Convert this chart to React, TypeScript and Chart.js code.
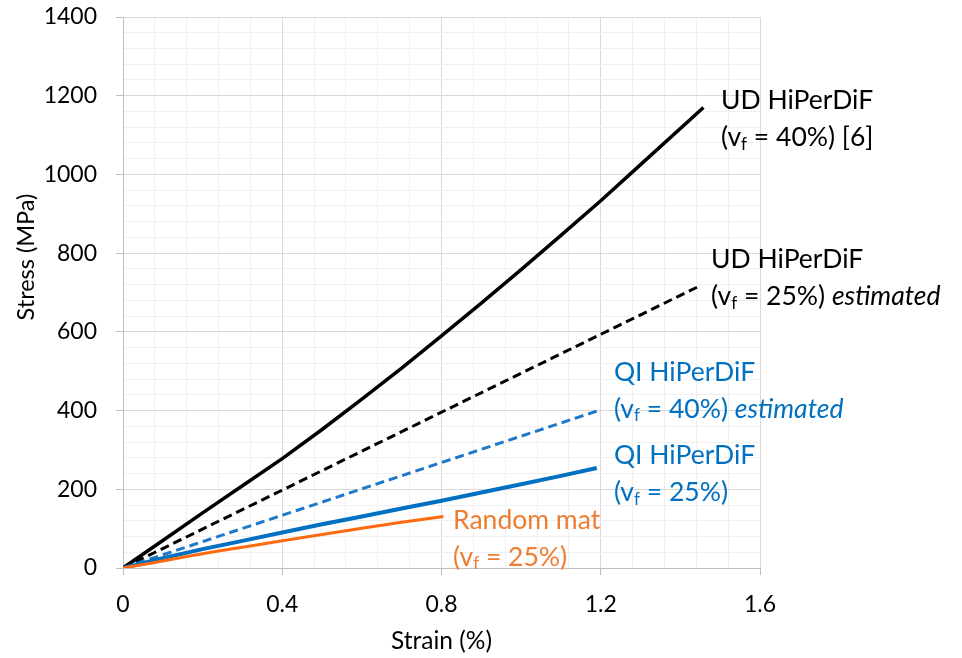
import React, { useEffect, useRef } from 'react';
import { Chart, registerables } from 'chart.js';

Chart.register(...registerables);

// ---- Data (strain %, stress MPa) ----
const udSolidStrain = [0, 0.1, 0.2, 0.3, 0.4, 0.5, 0.6, 0.7, 0.8, 0.9, 1.0, 1.1, 1.2, 1.3, 1.458];
const udSolidStress = [0, 70, 140, 209, 278, 352, 429, 508, 590, 673, 758, 845, 933, 1025, 1170];

const udDashedStrain = [0, 1.445];
const udDashedStress = [0, 715];

const qiDashedStrain = [0, 1.2];
const qiDashedStress = [0, 402];

const qiSolidStrain = [0, 0.1, 0.2, 0.3, 0.4, 0.5, 0.6, 0.7, 0.8, 0.9, 1.0, 1.1, 1.19];
const qiSolidStress = [0, 25, 48, 69, 90, 111, 131, 151, 171, 192, 213, 234, 254];

const randomStrain = [0, 0.08, 0.16, 0.24, 0.32, 0.4, 0.5, 0.6, 0.7, 0.805];
const randomStress = [0, 14, 29, 43, 56, 69, 85, 101, 116, 131];

const xTickLabels = ['0', '0.4', '0.8', '1.2', '1.6'];
const yTickLabels = ['0', '200', '400', '600', '800', '1000', '1200', '1400'];

const xTitle = 'Strain (%)';
const yTitle = 'Stress (MPa)';

const FONT = 'Lato, "Open Sans", sans-serif';

type Seg = { t: string; sub?: boolean; it?: boolean };
type Ann = { x: number; y: number; color: string; lines: Seg[][] };

const annotations: Ann[] = [
  {
    x: 1.502, y: 1189, color: '#000000',
    lines: [[{ t: 'UD HiPerDiF' }], [{ t: '(v' }, { t: 'f', sub: true }, { t: ' = 40%) [6]' }]],
  },
  {
    x: 1.477, y: 785, color: '#000000',
    lines: [[{ t: 'UD HiPerDiF' }], [{ t: '(v' }, { t: 'f', sub: true }, { t: ' = 25%) ' }, { t: 'estimated', it: true }]],
  },
  {
    x: 1.233, y: 498, color: '#0070C0',
    lines: [[{ t: 'QI HiPerDiF' }], [{ t: '(v' }, { t: 'f', sub: true }, { t: ' = 40%) ' }, { t: 'estimated', it: true }]],
  },
  {
    x: 1.233, y: 285, color: '#0070C0',
    lines: [[{ t: 'QI HiPerDiF' }], [{ t: '(v' }, { t: 'f', sub: true }, { t: ' = 25%)' }]],
  },
  {
    x: 0.829, y: 122, color: '#ED7D31',
    lines: [[{ t: 'Random mat' }], [{ t: '(v' }, { t: 'f', sub: true }, { t: ' = 25%)' }]],
  },
];

const zip = (xs: number[], ys: number[]) => xs.map((x, i) => ({ x, y: ys[i] }));

const isMajorX = (v: number) => Math.round(v * 100) % 40 === 0;
const isMajorY = (v: number) => Math.round(v) % 200 === 0;

const annotationPlugin = {
  id: 'textAnnotations',
  afterDatasetsDraw(chart: any) {
    const { ctx, scales } = chart;
    const sx = scales.x;
    const sy = scales.y;
    ctx.save();
    ctx.textBaseline = 'middle';
    ctx.textAlign = 'left';
    annotations.forEach((a) => {
      const x0 = sx.getPixelForValue(a.x);
      const y0 = sy.getPixelForValue(a.y);
      a.lines.forEach((line, i) => {
        let x = x0;
        const y = y0 + i * 37;
        line.forEach((s) => {
          const size = s.sub ? 17 : 26.5;
          ctx.font = `${s.it ? 'italic ' : ''}${size}px ${FONT}`;
          ctx.fillStyle = a.color;
          ctx.fillText(s.t, x, s.sub ? y + 7 : y);
          x += ctx.measureText(s.t).width;
        });
      });
    });
    ctx.restore();

    // y-axis title (positioned like the original, above the axis middle)
    ctx.save();
    ctx.translate(sy.left + 26, sy.getPixelForValue(790));
    ctx.rotate(-Math.PI / 2);
    ctx.textAlign = 'center';
    ctx.textBaseline = 'middle';
    ctx.font = `23.5px ${FONT}`;
    ctx.fillStyle = '#000000';
    ctx.fillText(yTitle, 0, 0);
    ctx.restore();
  },
};

export default function App() {
  const ref = useRef<HTMLCanvasElement>(null);

  useEffect(() => {
    if (!ref.current) return;
    const chart = new Chart(ref.current, {
      type: 'scatter',
      data: {
        datasets: [
          {
            label: 'Random mat',
            data: zip(randomStrain, randomStress),
            showLine: true,
            borderColor: '#FF6A10',
            borderWidth: 3,
            pointRadius: 0,
          },
          {
            label: 'QI HiPerDiF 25%',
            data: zip(qiSolidStrain, qiSolidStress),
            showLine: true,
            borderColor: '#0070C0',
            borderWidth: 4,
            pointRadius: 0,
          },
          {
            label: 'QI HiPerDiF 40% est',
            data: zip(qiDashedStrain, qiDashedStress),
            showLine: true,
            borderColor: '#1F78C8',
            borderWidth: 3,
            borderDash: [9, 5],
            pointRadius: 0,
          },
          {
            label: 'UD HiPerDiF 25% est',
            data: zip(udDashedStrain, udDashedStress),
            showLine: true,
            borderColor: '#000000',
            borderWidth: 3,
            borderDash: [9, 5],
            pointRadius: 0,
          },
          {
            label: 'UD HiPerDiF 40%',
            data: zip(udSolidStrain, udSolidStress),
            showLine: true,
            borderColor: '#000000',
            borderWidth: 3.5,
            pointRadius: 0,
          },
        ],
      },
      options: {
        responsive: false,
        animation: false,
        devicePixelRatio: 1,
        layout: { padding: { left: 0, top: 17, right: 202, bottom: 0 } },
        plugins: {
          legend: { display: false },
          tooltip: { enabled: false },
          title: { display: false },
        },
        scales: {
          x: {
            type: 'linear',
            min: 0,
            max: 1.6,
            afterFit: (s: any) => { s.height = 90; s.paddingLeft = 0; s.paddingRight = 0; },
            ticks: {
              stepSize: 0.08,
              autoSkip: false,
              maxRotation: 0,
              padding: 16,
              color: '#000000',
              font: { family: FONT, size: 23 },
              callback: (v: any) => (isMajorX(Number(v)) ? xTickLabels[Math.round(Number(v) / 0.4)] : ''),
            },
            grid: {
              drawTicks: true,
              tickLength: 7,
              color: (c: any) => (c.tick && isMajorX(c.tick.value) ? '#D9D9D9' : '#F0F0F0'),
              tickColor: (c: any) => (c.tick && isMajorX(c.tick.value) ? '#BFBFBF' : 'rgba(0,0,0,0)'),
            },
            border: { display: true, color: '#BFBFBF', width: 1 },
            title: {
              display: true,
              text: xTitle,
              color: '#000000',
              font: { family: FONT, size: 24.5 },
              padding: { top: 0, bottom: 2 },
            },
          },
          y: {
            type: 'linear',
            min: 0,
            max: 1400,
            afterFit: (s: any) => { s.width = 123; s.paddingTop = 0; s.paddingBottom = 0; },
            ticks: {
              stepSize: 40,
              autoSkip: false,
              padding: 19,
              color: '#000000',
              font: { family: FONT, size: 23 },
              callback: (v: any) => (isMajorY(Number(v)) ? yTickLabels[Math.round(Number(v) / 200)] : ''),
            },
            grid: {
              drawTicks: true,
              tickLength: 7,
              color: (c: any) => (c.tick && isMajorY(c.tick.value) ? '#D9D9D9' : '#F0F0F0'),
              tickColor: (c: any) => (c.tick && isMajorY(c.tick.value) ? '#BFBFBF' : 'rgba(0,0,0,0)'),
            },
            border: { display: true, color: '#BFBFBF', width: 1 },
            title: { display: false },
          },
        },
      },
      plugins: [annotationPlugin],
    } as any);
    return () => chart.destroy();
  }, []);

  return (
    <div style={{ position: 'fixed', left: 0, top: 0, width: 962, height: 658, background: '#ffffff' }}>
      <canvas ref={ref} width={962} height={658} style={{ display: 'block' }} />
    </div>
  );
}
